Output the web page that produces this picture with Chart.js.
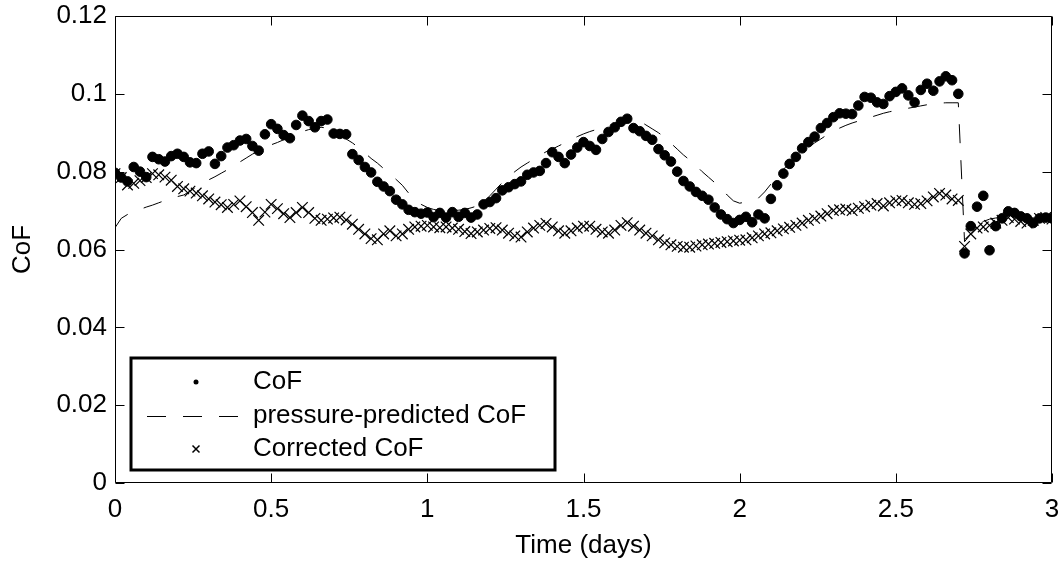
<!DOCTYPE html>
<html>
<head>
<meta charset="utf-8">
<script src="https://cdn.jsdelivr.net/npm/chart.js@4.4.1/dist/chart.umd.min.js"></script>
<style>
html, body { margin: 0; padding: 0; background: #fff; }
#wrap { width: 1063px; height: 561px; position: relative; }
</style>
</head>
<body>
<div id="wrap"><canvas id="cof"></canvas></div>
<script>
(function () {
    "use strict";

    // time in days, one sample every 0.02 d
    var times = [
        0.00, 0.02, 0.04, 0.06, 0.08, 0.10, 0.12, 0.14, 0.16, 0.18,
        0.20, 0.22, 0.24, 0.26, 0.28, 0.30, 0.32, 0.34, 0.36, 0.38,
        0.40, 0.42, 0.44, 0.46, 0.48, 0.50, 0.52, 0.54, 0.56, 0.58,
        0.60, 0.62, 0.64, 0.66, 0.68, 0.70, 0.72, 0.74, 0.76, 0.78,
        0.80, 0.82, 0.84, 0.86, 0.88, 0.90, 0.92, 0.94, 0.96, 0.98,
        1.00, 1.02, 1.04, 1.06, 1.08, 1.10, 1.12, 1.14, 1.16, 1.18,
        1.20, 1.22, 1.24, 1.26, 1.28, 1.30, 1.32, 1.34, 1.36, 1.38,
        1.40, 1.42, 1.44, 1.46, 1.48, 1.50, 1.52, 1.54, 1.56, 1.58,
        1.60, 1.62, 1.64, 1.66, 1.68, 1.70, 1.72, 1.74, 1.76, 1.78,
        1.80, 1.82, 1.84, 1.86, 1.88, 1.90, 1.92, 1.94, 1.96, 1.98,
        2.00, 2.02, 2.04, 2.06, 2.08, 2.10, 2.12, 2.14, 2.16, 2.18,
        2.20, 2.22, 2.24, 2.26, 2.28, 2.30, 2.32, 2.34, 2.36, 2.38,
        2.40, 2.42, 2.44, 2.46, 2.48, 2.50, 2.52, 2.54, 2.56, 2.58,
        2.60, 2.62, 2.64, 2.66, 2.68, 2.70, 2.72, 2.74, 2.76, 2.78,
        2.80, 2.82, 2.84, 2.86, 2.88, 2.90, 2.92, 2.94, 2.96, 2.98,
        3.00
    ];

    var cof = [
        0.0797, 0.0785, 0.0775, 0.0812, 0.0800, 0.0786, 0.0838, 0.0832, 0.0826, 0.0840,
        0.0846, 0.0838, 0.0824, 0.0822, 0.0846, 0.0852, 0.0820, 0.0840, 0.0862, 0.0868,
        0.0880, 0.0884, 0.0866, 0.0854, 0.0896, 0.0922, 0.0910, 0.0894, 0.0886, 0.0920,
        0.0944, 0.0930, 0.0914, 0.0930, 0.0934, 0.0898, 0.0897, 0.0896, 0.0845, 0.0830,
        0.0812, 0.0798, 0.0774, 0.0762, 0.0750, 0.0728, 0.0716, 0.0702, 0.0696, 0.0692,
        0.0695, 0.0683, 0.0694, 0.0682, 0.0696, 0.0684, 0.0694, 0.0682, 0.0690, 0.0716,
        0.0722, 0.0732, 0.0752, 0.0760, 0.0768, 0.0775, 0.0792, 0.0798, 0.0802, 0.0822,
        0.0850, 0.0838, 0.0822, 0.0844, 0.0862, 0.0876, 0.0866, 0.0856, 0.0884, 0.0902,
        0.0914, 0.0928, 0.0936, 0.0912, 0.0904, 0.0892, 0.0882, 0.0858, 0.0842, 0.0826,
        0.0800, 0.0776, 0.0762, 0.0748, 0.0738, 0.0728, 0.0708, 0.0690, 0.0678, 0.0668,
        0.0676, 0.0684, 0.0670, 0.0690, 0.0680, 0.0730, 0.0765, 0.0795, 0.0820, 0.0838,
        0.0860, 0.0876, 0.0890, 0.0912, 0.0925, 0.0940, 0.0950, 0.0949, 0.0948, 0.0970,
        0.0992, 0.0990, 0.0978, 0.0974, 0.0994, 0.1005, 0.1014, 0.0996, 0.0978, 0.1010,
        0.1026, 0.1008, 0.1032, 0.1045, 0.1035, 0.1000, 0.0590, 0.0660, 0.0710, 0.0738,
        0.0598, 0.0660, 0.0680, 0.0698, 0.0694, 0.0685, 0.0680, 0.0668, 0.0680, 0.0682,
        0.0680
    ];

    var predicted = [
        0.0656, 0.0680, 0.0690, 0.0697, 0.0703, 0.0709, 0.0714, 0.0720, 0.0726, 0.0731,
        0.0736, 0.0740, 0.0750, 0.0760, 0.0770, 0.0779, 0.0787, 0.0796, 0.0805, 0.0815,
        0.0825, 0.0835, 0.0845, 0.0853, 0.0862, 0.0869, 0.0875, 0.0882, 0.0890, 0.0897,
        0.0903, 0.0908, 0.0912, 0.0914, 0.0912, 0.0905, 0.0895, 0.0884, 0.0874, 0.0862,
        0.0848, 0.0834, 0.0822, 0.0808, 0.0795, 0.0780, 0.0765, 0.0745, 0.0728, 0.0716,
        0.0708, 0.0703, 0.0700, 0.0699, 0.0700, 0.0701, 0.0703, 0.0707, 0.0712, 0.0722,
        0.0738, 0.0755, 0.0772, 0.0787, 0.0800, 0.0812, 0.0822, 0.0832, 0.0842, 0.0851,
        0.0858, 0.0866, 0.0874, 0.0882, 0.0890, 0.0897, 0.0903, 0.0908, 0.0912, 0.0918,
        0.0924, 0.0930, 0.0934, 0.0935, 0.0930, 0.0920, 0.0910, 0.0900, 0.0888, 0.0873,
        0.0858, 0.0843, 0.0830, 0.0816, 0.0800, 0.0786, 0.0772, 0.0757, 0.0740, 0.0725,
        0.0719, 0.0722, 0.0726, 0.0732, 0.0748, 0.0768, 0.0790, 0.0806, 0.0822, 0.0837,
        0.0850, 0.0862, 0.0874, 0.0884, 0.0895, 0.0904, 0.0912, 0.0919, 0.0925, 0.0930,
        0.0935, 0.0940, 0.0945, 0.0950, 0.0954, 0.0957, 0.0960, 0.0963, 0.0966, 0.0969,
        0.0972, 0.0974, 0.0976, 0.0977, 0.0977, 0.0977, 0.0620, 0.0640, 0.0660, 0.0672,
        0.0678, 0.0681, 0.0683, 0.0684, 0.0684, 0.0683, 0.0682, 0.0681, 0.0681, 0.0680,
        0.0680
    ];

    var corrected = [
        0.0795, 0.0785, 0.0766, 0.0770, 0.0777, 0.0785, 0.0795, 0.0792, 0.0786, 0.0778,
        0.0762, 0.0756, 0.0750, 0.0745, 0.0738, 0.0730, 0.0722, 0.0715, 0.0708, 0.0716,
        0.0725, 0.0710, 0.0695, 0.0675, 0.0696, 0.0716, 0.0705, 0.0692, 0.0682, 0.0695,
        0.0708, 0.0695, 0.0680, 0.0675, 0.0678, 0.0681, 0.0683, 0.0676, 0.0665, 0.0652,
        0.0640, 0.0628, 0.0625, 0.0640, 0.0648, 0.0635, 0.0640, 0.0652, 0.0658, 0.0660,
        0.0662, 0.0658, 0.0656, 0.0658, 0.0655, 0.0652, 0.0646, 0.0641, 0.0645, 0.0650,
        0.0654, 0.0656, 0.0650, 0.0642, 0.0635, 0.0632, 0.0645, 0.0655, 0.0662, 0.0667,
        0.0658, 0.0648, 0.0642, 0.0648, 0.0655, 0.0660, 0.0660, 0.0652, 0.0645, 0.0642,
        0.0650, 0.0662, 0.0669, 0.0660, 0.0650, 0.0642, 0.0635, 0.0625, 0.0617, 0.0612,
        0.0608, 0.0606, 0.0606, 0.0609, 0.0612, 0.0614, 0.0616, 0.0618, 0.0620, 0.0622,
        0.0624, 0.0625, 0.0630, 0.0635, 0.0640, 0.0643, 0.0648, 0.0653, 0.0657, 0.0662,
        0.0668, 0.0675, 0.0680, 0.0686, 0.0692, 0.0700, 0.0702, 0.0704, 0.0700, 0.0706,
        0.0710, 0.0714, 0.0718, 0.0712, 0.0720, 0.0725, 0.0726, 0.0720, 0.0716, 0.0718,
        0.0725, 0.0735, 0.0744, 0.0740, 0.0730, 0.0726, 0.0608, 0.0640, 0.0655, 0.0658,
        0.0662, 0.0668, 0.0675, 0.0682, 0.0678, 0.0672, 0.0668, 0.0675, 0.0680, 0.0682,
        0.0678
    ];

    var seriesNames = ["CoF", "pressure-predicted CoF", "Corrected CoF"];
    var xTickValues = [0, 0.5, 1, 1.5, 2, 2.5, 3];
    var xTickLabels = ["0", "0.5", "1", "1.5", "2", "2.5", "3"];
    var yTickValues = [0, 0.02, 0.04, 0.06, 0.08, 0.1, 0.12];
    var yTickLabels = ["0", "0.02", "0.04", "0.06", "0.08", "0.1", "0.12"];

    var FONT = "'Liberation Sans', Arial, Helvetica, sans-serif";
    var FONT_SIZE = 26;
    var DASH = [19, 17];

    function points(values) {
        return times.map(function (t, i) {
            return { x: t, y: values[i] };
        });
    }

    // box round the axes, with the ticks pointing inward on all four sides
    var framePlugin = {
        id: "frame",
        afterDatasetsDraw: function (chart) {
            var ctx = chart.ctx;
            var a = chart.chartArea;
            var xs = chart.scales.x;
            var ys = chart.scales.y;
            var L = Math.round(a.left) + 0.5;
            var R = Math.round(a.right) - 0.5;
            var T = Math.round(a.top) + 0.5;
            var B = Math.round(a.bottom) - 0.5;
            var len = 9;
            ctx.save();
            ctx.strokeStyle = "#000";
            ctx.lineWidth = 1;
            ctx.beginPath();
            ctx.rect(L, T, R - L, B - T);
            xTickValues.forEach(function (v) {
                var px = Math.round(xs.getPixelForValue(v)) + 0.5;
                ctx.moveTo(px, B);
                ctx.lineTo(px, B - len);
                ctx.moveTo(px, T);
                ctx.lineTo(px, T + len);
            });
            yTickValues.forEach(function (v) {
                var py = Math.round(ys.getPixelForValue(v)) + 0.5;
                ctx.moveTo(L, py);
                ctx.lineTo(L + len, py);
                ctx.moveTo(R, py);
                ctx.lineTo(R - len, py);
            });
            ctx.stroke();
            ctx.restore();
        }
    };

    // legend box in the lower left of the axes
    var legendPlugin = {
        id: "boxLegend",
        afterDraw: function (chart) {
            var ctx = chart.ctx;
            var box = { x: 131, y: 358, w: 424, h: 112 };
            var rows = [382, 416, 449];
            var sym = 196;
            var textX = 253;
            ctx.save();
            ctx.fillStyle = "#fff";
            ctx.fillRect(box.x, box.y, box.w, box.h);
            ctx.strokeStyle = "#000";
            ctx.lineWidth = 3;
            ctx.strokeRect(box.x, box.y, box.w, box.h);

            // CoF marker
            ctx.fillStyle = "#000";
            ctx.beginPath();
            ctx.arc(sym, rows[0], 2.5, 0, Math.PI * 2);
            ctx.fill();

            // dashed line
            ctx.lineWidth = 1;
            ctx.setLineDash(DASH);
            ctx.beginPath();
            ctx.moveTo(147, rows[1] + 0.5);
            ctx.lineTo(240, rows[1] + 0.5);
            ctx.stroke();
            ctx.setLineDash([]);

            // cross marker
            ctx.lineWidth = 1.5;
            ctx.beginPath();
            ctx.moveTo(sym - 3.5, rows[2] - 3.5);
            ctx.lineTo(sym + 3.5, rows[2] + 3.5);
            ctx.moveTo(sym + 3.5, rows[2] - 3.5);
            ctx.lineTo(sym - 3.5, rows[2] + 3.5);
            ctx.stroke();

            ctx.font = FONT_SIZE + "px " + FONT;
            ctx.textAlign = "left";
            ctx.textBaseline = "middle";
            ctx.fillStyle = "#000";
            chart.data.datasets.forEach(function (ds, i) {
                ctx.fillText(ds.label, textX, rows[i]);
            });
            ctx.restore();
        }
    };

    var canvas = document.getElementById("cof");

    new Chart(canvas, {
        type: "scatter",
        data: {
            datasets: [
                {
                    label: seriesNames[0],
                    data: points(cof),
                    showLine: false,
                    pointStyle: "circle",
                    pointRadius: 4.8,
                    pointBackgroundColor: "#000",
                    pointBorderColor: "#000",
                    pointBorderWidth: 1
                },
                {
                    label: seriesNames[1],
                    data: points(predicted),
                    showLine: true,
                    borderColor: "#000",
                    borderWidth: 1,
                    borderDash: DASH,
                    pointRadius: 0,
                    tension: 0
                },
                {
                    label: seriesNames[2],
                    data: points(corrected),
                    showLine: false,
                    pointStyle: "crossRot",
                    pointRadius: 7.5,
                    pointBorderColor: "#000",
                    pointBorderWidth: 1.2
                }
            ]
        },
        options: {
            responsive: true,
            maintainAspectRatio: false,
            animation: false,
            layout: {
                padding: { top: 16, right: 11, left: 0, bottom: 0 }
            },
            plugins: {
                legend: { display: false },
                tooltip: { enabled: false }
            },
            scales: {
                x: {
                    type: "linear",
                    min: 0,
                    max: 3,
                    afterFit: function (s) {
                        s.height = 78;
                        s.paddingLeft = 0;
                        s.paddingRight = 0;
                    },
                    afterBuildTicks: function (s) {
                        s.ticks = xTickValues.map(function (v) { return { value: v }; });
                    },
                    grid: { display: false, drawTicks: false },
                    border: { display: false },
                    ticks: {
                        padding: 11,
                        color: "#000",
                        font: { family: FONT, size: FONT_SIZE },
                        maxRotation: 0,
                        callback: function (v, i) { return xTickLabels[i]; }
                    },
                    title: {
                        display: true,
                        text: "Time (days)",
                        color: "#000",
                        font: { family: FONT, size: FONT_SIZE },
                        padding: { top: 0, bottom: 0 }
                    }
                },
                y: {
                    type: "linear",
                    min: 0,
                    max: 0.12,
                    afterFit: function (s) {
                        s.width = 115;
                        s.paddingTop = 0;
                        s.paddingBottom = 0;
                    },
                    afterBuildTicks: function (s) {
                        s.ticks = yTickValues.map(function (v) { return { value: v }; });
                    },
                    grid: { display: false, drawTicks: false },
                    border: { display: false },
                    ticks: {
                        padding: 8,
                        color: "#000",
                        font: { family: FONT, size: FONT_SIZE },
                        callback: function (v, i) { return yTickLabels[i]; }
                    },
                    title: {
                        display: true,
                        text: "CoF",
                        color: "#000",
                        font: { family: FONT, size: FONT_SIZE },
                        padding: { top: 7, bottom: 0 }
                    }
                }
            }
        },
        plugins: [framePlugin, legendPlugin]
    });
})();
</script>
</body>
</html>
